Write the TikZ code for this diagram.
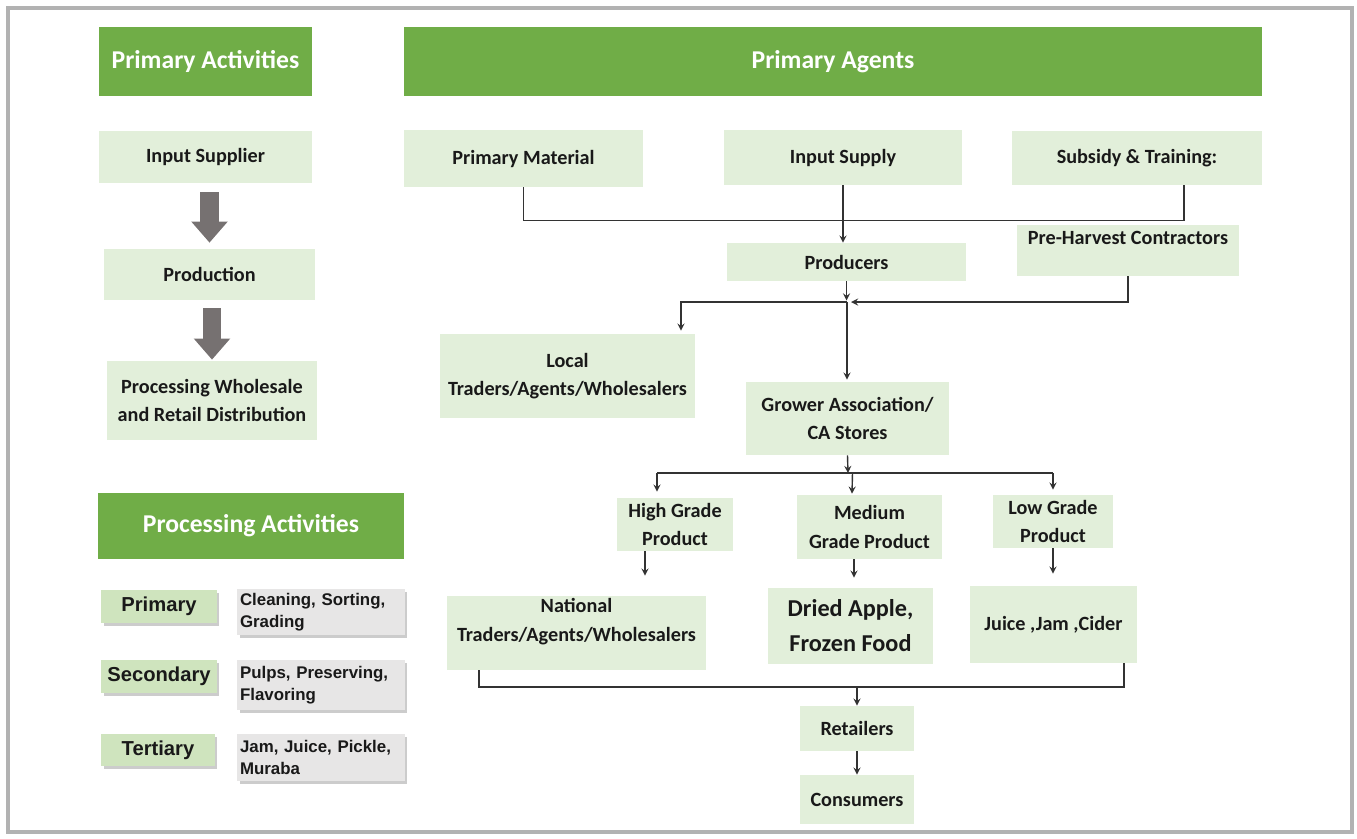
\documentclass[tikz,border=0pt]{standalone}
\usepackage{fontspec}
\setmainfont{Carlito}
\newfontfamily\arialfont{Liberation Sans}
\usetikzlibrary{arrows,arrows.meta,shapes,shadows}
\definecolor{darkgreen}{HTML}{70AD47}
\definecolor{palegreen}{HTML}{E2EFDA}
\definecolor{taggreen}{HTML}{CFE4BE}
\definecolor{notegray}{HTML}{E7E6E6}
\definecolor{arrowgray}{HTML}{767171}
\tikzstyle{headblock} = [rectangle, fill=darkgreen, text=white, font=\fontsize{14.6}{17}\selectfont\bfseries, inner sep=0pt]
\tikzstyle{block} = [rectangle, fill=palegreen, text=black!90, font=\fontsize{11.5}{16.2}\selectfont\bfseries, align=center, inner sep=0pt]
\tikzstyle{bigblock} = [block, font=\fontsize{13.8}{20}\selectfont\bfseries]
\tikzstyle{tagblock} = [rectangle, fill=taggreen, text=black!90, font=\arialfont\fontsize{11.5}{13}\selectfont\bfseries, inner sep=0pt, minimum height=0.66cm, drop shadow={shadow xshift=0.05cm, shadow yshift=-0.06cm, fill=black!40}]
\tikzstyle{noteblock} = [rectangle, fill=notegray, text=black!90, font=\arialfont\fontsize{9.6}{12.5}\selectfont\bfseries, align=left, inner xsep=0.06cm, inner ysep=0pt, text width=3.24cm, drop shadow={shadow xshift=0.05cm, shadow yshift=-0.06cm, fill=black!40}]
\tikzstyle{line} = [draw=black!80, line width=0.8pt]
\tikzstyle{blockarrow} = [draw=arrowgray, line width=10.5pt, -{Triangle[width=20pt, length=12pt]}]

\begin{document}
\begin{tikzpicture}[x=0.02cm, y=-0.02cm, >=stealth]
   \useasboundingbox (0,0) rectangle (1357,839);
   \draw[black!30, line width=2.5pt] (8,8) rectangle (1352,832);

   % left column
   \node[headblock, minimum width=4.26cm, minimum height=1.38cm] (pa) at (205.5,61.5) {Primary Activities};
   \node[block, minimum width=4.26cm, minimum height=1.04cm] (insup) at (205.5,157) {Input Supplier};
   \node[block, minimum width=4.22cm, minimum height=1.02cm] (prod) at (209.5,274.5) {Production};
   \node[block, minimum width=4.2cm, minimum height=1.58cm] (pwr) at (212,400.5) {Processing Wholesale\\and Retail Distribution};

   \node[headblock, minimum width=6.12cm, minimum height=1.32cm] (proc) at (251,526) {Processing Activities};
   \node[tagblock, minimum width=2.32cm] (pri) at (159,606) {Primary};
   \node[noteblock, minimum height=0.92cm] (clean) at (321,612) {Cleaning, Sorting,\\Grading};
   \node[tagblock, minimum width=2.32cm] (sec) at (159,676.5) {Secondary};
   \node[noteblock, minimum height=1.0cm] (pulps) at (321,685) {Pulps, Preserving,\\Flavoring};
   \node[tagblock, minimum width=2.28cm, minimum height=0.64cm] (ter) at (158,750) {Tertiary};
   \node[noteblock, minimum height=0.94cm] (jam) at (321,757.5) {Jam, Juice, Pickle,\\Muraba};

   % right side
   \node[headblock, minimum width=17.16cm, minimum height=1.38cm] (pag) at (833,61.5) {Primary Agents};
   \node[block, minimum width=4.78cm, minimum height=1.14cm] (pm) at (523.5,158.5) {Primary Material};
   \node[block, minimum width=4.76cm, minimum height=1.1cm] (isup) at (843,157.5) {Input Supply};
   \node[block, minimum width=5.0cm, minimum height=1.08cm] (sub) at (1137,158) {Subsidy \& Training:};
   \node[block, minimum width=4.78cm, minimum height=0.76cm] (prds) at (846.5,262) {Producers};
   \node[block, minimum width=4.44cm, minimum height=1.02cm] (phc) at (1128,250.5) {Pre-Harvest Contractors\\[-7pt] \strut};
   \node[block, minimum width=5.1cm, minimum height=1.68cm] (ltw) at (567.5,376) {Local\\Traders/Agents/Wholesalers};
   \node[block, minimum width=4.06cm, minimum height=1.46cm] (ga) at (847.5,418.5) {Grower Association/\\CA Stores};
   \node[block, minimum width=2.32cm, minimum height=1.06cm] (hg) at (675,524.5) {High Grade\\Product};
   \node[block, minimum width=2.9cm, minimum height=1.28cm] (mg) at (869.5,527) {Medium\\Grade Product};
   \node[block, minimum width=2.4cm, minimum height=1.06cm] (lg) at (1053,521.5) {Low Grade\\Product};
   \node[block, minimum width=5.18cm, minimum height=1.48cm] (ntw) at (576.5,633) {National\\Traders/Agents/Wholesalers\\[-6pt] \strut};
   \node[bigblock, minimum width=3.3cm, minimum height=1.52cm] (dry) at (850.5,626) {Dried Apple,\\Frozen Food};
   \node[block, minimum width=3.34cm, minimum height=1.54cm] (jjc) at (1053.5,624.5) {Juice ,Jam ,Cider};
   \node[block, minimum width=2.28cm, minimum height=0.9cm] (ret) at (857,728.5) {Retailers};
   \node[block, minimum width=2.28cm, minimum height=0.98cm] (con) at (857,799.5) {Consumers};

   \coordinate (hub) at (847,302);
   \coordinate (split) at (848,473);
   \coordinate (merge) at (857,687);

   % edges
   \draw[blockarrow, shorten <=0.18cm, shorten >=0.12cm] (prod.north |- insup.south) -- (prod.north);
   \draw[blockarrow, shorten <=0.16cm, shorten >=0.02cm] (pwr.north |- prod.south) -- (pwr.north);

   \draw[line] (pm.south) -- ++(0,33) -| ([xshift=0.94cm]sub.south);
   \draw[line,->] (isup.south) -- (isup.south |- prds.north);
   \draw[line,->] (prds.south) -- ([yshift=0.03cm]prds.south |- hub);
   \draw[line,->] (phc.south) |- ([xshift=0.08cm]hub);
   \draw[line,->] (hub) -| ([xshift=2.27cm,yshift=0.06cm]ltw.north);
   \draw[line,->] (hub) -- ([yshift=0.04cm]hub |- ga.north);

   \draw[line,->] (ga.south) -- (split);
   \draw[line] ([xshift=-0.36cm]hg.north |- split) -- (lg.north |- split);
   \draw[line,->] ([xshift=-0.36cm]hg.north |- split) -- ([xshift=-0.36cm,yshift=0.12cm]hg.north);
   \draw[line,->] (split -| mg.north) ++(-17,0) -- ([xshift=-0.35cm,yshift=0.02cm]mg.north);
   \draw[line,->] (lg.north |- split) -- ([yshift=0.1cm]lg.north);

   \draw[line,->, shorten >=0.4cm] ([xshift=-0.6cm]hg.south) -- ([xshift=-0.6cm]hg.south |- ntw.north);
   \draw[line,->, shorten >=0.2cm] ([xshift=-0.31cm]mg.south) -- ([xshift=-0.31cm]mg.south |- dry.north);
   \draw[line,->, shorten >=0.24cm] (lg.south) -- (lg.south |- jjc.north);

   \draw[line] ([xshift=-1.95cm]ntw.south) |- (merge) -| ([xshift=1.41cm]jjc.south);
   \draw[line,->] (merge) -- (ret.north);
   \draw[line,->] (ret.south) -- (con.north);
\end{tikzpicture}
\end{document}
